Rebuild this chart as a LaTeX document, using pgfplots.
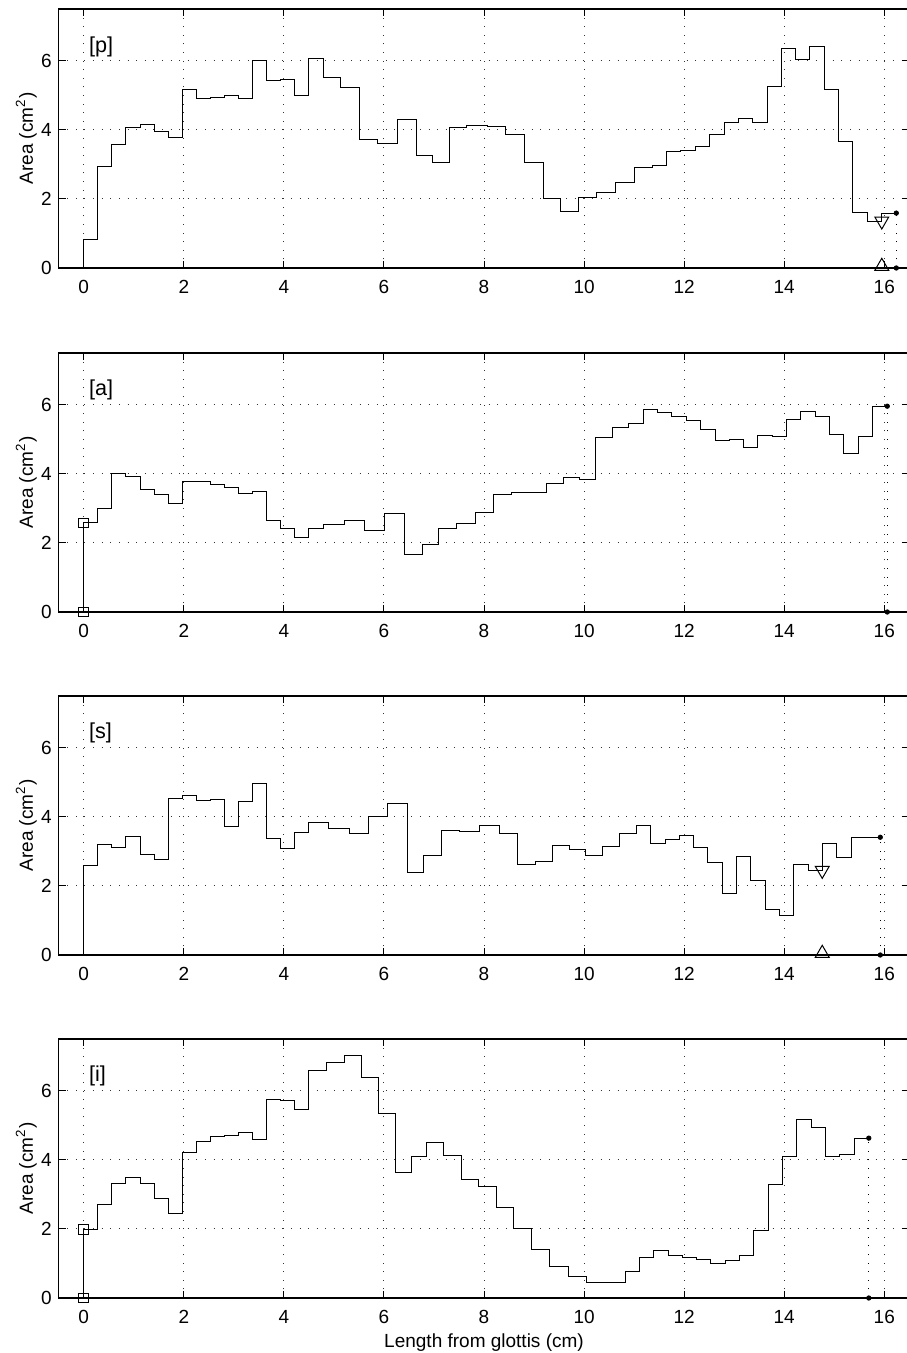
\documentclass[border=0pt]{standalone}
\usepackage{fontspec}
\setmainfont{Liberation Sans}
\usepackage{pgfplots}
\pgfplotsset{compat=1.18}
\usepackage{pgfplotstable}

\pgfplotstableread{
x y
0 0
0 0.83
0.28 2.93
0.565 3.59
0.845 4.06
1.13 4.15
1.416 3.96
1.695 3.77
1.98 5.17
2.26 4.90
2.54 4.95
2.82 5.00
3.10 4.92
3.38 6.02
3.66 5.44
3.94 5.46
4.22 5.00
4.50 6.07
4.79 5.53
5.14 5.23
5.52 3.73
5.88 3.61
6.28 4.31
6.65 3.26
6.97 3.05
7.31 4.07
7.66 4.13
8.06 4.10
8.43 3.86
8.81 3.05
9.19 2.00
9.52 1.64
9.88 2.05
10.25 2.18
10.62 2.49
11.00 2.91
11.37 2.97
11.64 3.37
11.93 3.40
12.22 3.53
12.51 3.86
12.80 4.20
13.09 4.34
13.37 4.20
13.66 5.26
13.95 6.35
14.23 6.05
14.51 6.42
14.80 5.17
15.08 3.67
15.37 1.61
15.66 1.36
15.95 1.59
16.24 1.59
}\datap

\pgfplotstableread{
x y
0 0
0 2.58
0.28 3.01
0.565 4.00
0.845 3.92
1.13 3.54
1.416 3.39
1.695 3.15
1.98 3.77
2.54 3.69
2.82 3.61
3.10 3.44
3.38 3.50
3.66 2.65
3.94 2.43
4.22 2.15
4.50 2.43
4.79 2.52
5.21 2.64
5.62 2.35
6.02 2.85
6.42 1.66
6.77 1.95
7.10 2.42
7.46 2.55
7.83 2.88
8.19 3.39
8.55 3.47
9.24 3.71
9.58 3.90
9.91 3.85
10.23 5.06
10.56 5.33
10.88 5.45
11.18 5.86
11.47 5.79
11.75 5.65
12.04 5.55
12.33 5.28
12.62 4.98
12.91 5.00
13.19 4.77
13.47 5.11
13.76 5.08
14.05 5.57
14.33 5.82
14.62 5.65
14.90 5.13
15.19 4.59
15.48 5.07
15.77 5.96
16.06 5.96
}\dataa

\pgfplotstableread{
x y
0 0
0 2.58
0.28 3.21
0.565 3.10
0.845 3.43
1.13 2.91
1.416 2.76
1.695 4.53
1.98 4.61
2.26 4.47
2.54 4.50
2.82 3.72
3.10 4.44
3.38 4.97
3.66 3.37
3.94 3.09
4.22 3.55
4.50 3.85
4.90 3.67
5.31 3.51
5.70 4.02
6.08 4.38
6.47 2.39
6.80 2.89
7.15 3.62
7.51 3.59
7.90 3.74
8.31 3.53
8.67 2.63
9.03 2.70
9.36 3.16
9.70 3.05
10.03 2.87
10.36 3.14
10.70 3.51
11.04 3.74
11.33 3.24
11.62 3.34
11.90 3.47
12.19 3.11
12.47 2.67
12.76 1.79
13.05 2.84
13.33 2.16
13.62 1.33
13.91 1.13
14.19 2.62
14.48 2.45
14.76 3.23
15.05 2.81
15.34 3.41
15.92 3.41
}\datas

\pgfplotstableread{
x y
0 0
0 1.99
0.28 2.71
0.565 3.32
0.845 3.49
1.13 3.32
1.416 2.87
1.695 2.46
1.98 4.22
2.26 4.53
2.54 4.67
2.82 4.72
3.10 4.78
3.38 4.60
3.66 5.74
3.94 5.72
4.22 5.46
4.50 6.58
4.85 6.81
5.21 7.02
5.55 6.38
5.90 5.33
6.24 3.64
6.55 4.11
6.86 4.50
7.20 4.14
7.55 3.42
7.89 3.22
8.25 2.62
8.59 2.02
8.95 1.41
9.31 0.90
9.68 0.63
10.05 0.45
10.82 0.76
11.10 1.17
11.39 1.38
11.68 1.24
11.96 1.16
12.25 1.12
12.53 1.01
12.82 1.10
13.11 1.24
13.39 1.96
13.68 3.28
13.97 4.10
14.25 5.17
14.54 4.95
14.82 4.09
15.11 4.17
15.40 4.63
15.69 4.63
}\datai

\pgfplotsset{
 myaxis/.style={
  scale only axis, width=425.3pt, height=129.5pt,
  xmin=-0.5, xmax=16.5, ymin=0, ymax=7.5,
  xtick={0,2,...,16}, ytick={0,2,4,6},
  grid=major,
  major grid style={black!80, line width=0.5pt, dash pattern=on 0.5pt off 3.8pt},
  tick align=inside, xtick pos=both, ytick pos=both, major tick length=3.5pt,
  axis line style={line width=0.6pt},
  every tick/.style={black, line width=0.5pt},
  /pgf/number format/assume math mode=true,
  tick label style={font=\fontsize{9.5}{11}\selectfont},
  label style={font=\fontsize{9.5}{11}\selectfont},
  ylabel={Area (cm\textsuperscript{2})},
  y label style={at={(axis description cs:-0.038,0.5)}, anchor=center},
  x tick label style={yshift=-2.5pt},
  clip=false,
  anchor=south west,
 },
 stp/.style={black, line width=0.5pt, const plot mark left, no marks},
 endl/.style={black, line width=0.5pt, dash pattern=on 0.5pt off 3.8pt},
 dots/.style={only marks, mark=*, mark size=1.1pt, black},
 sq/.style={only marks, mark=square, mark size=2.4pt, black, mark options={line width=0.5pt}},
 tri/.style={only marks, mark=triangle, mark size=4pt, black, mark options={line width=0.5pt}},
 trid/.style={only marks, mark=triangle, mark size=4pt, black, mark options={line width=0.5pt, rotate=180}},
}
\tikzset{plab/.style={anchor=base west, inner sep=0pt, font=\fontsize{10.8}{12}\selectfont}}

\begin{document}
\begin{tikzpicture}
% [p]
\begin{axis}[myaxis, at={(29.35pt,-134pt)}]
\addplot[stp] table {\datap};
\addplot[endl] coordinates {(16.24,0) (16.24,1.59)};
\addplot[dots] coordinates {(16.24,0) (16.24,1.59)};
\addplot[trid] coordinates {(15.95,1.36)};
\addplot[tri] coordinates {(15.95,0.05)};
\node[plab] at (axis cs:0.1,6.25) {[p]};
\end{axis}
% [a]
\begin{axis}[myaxis, at={(29.35pt,-306pt)}]
\addplot[stp] table {\dataa};
\addplot[endl] coordinates {(16.06,0) (16.06,5.96)};
\addplot[dots] coordinates {(16.06,0) (16.06,5.96)};
\addplot[sq] coordinates {(0,0) (0,2.58)};
\node[plab] at (axis cs:0.1,6.27) {[a]};
\end{axis}
% [s]
\begin{axis}[myaxis, at={(29.35pt,-477.5pt)}]
\addplot[stp] table {\datas};
\addplot[endl] coordinates {(15.92,0) (15.92,3.41)};
\addplot[dots] coordinates {(15.92,0) (15.92,3.41)};
\addplot[trid] coordinates {(14.76,2.45)};
\addplot[tri] coordinates {(14.76,0.05)};
\node[plab] at (axis cs:0.1,6.27) {[s]};
\end{axis}
% [i]
\begin{axis}[myaxis, at={(29.35pt,-649pt)}, xlabel={Length from glottis (cm)},
  x label style={at={(axis description cs:0.5,-0.174)}, anchor=center}]
\addplot[stp] table {\datai};
\addplot[endl] coordinates {(15.69,0) (15.69,4.63)};
\addplot[dots] coordinates {(15.69,0) (15.69,4.63)};
\addplot[sq] coordinates {(0,0) (0,1.99)};
\node[plab] at (axis cs:0.1,6.27) {[i]};
\end{axis}
\pgfresetboundingbox
\path[use as bounding box] (0,0) rectangle (453pt,-676.5pt);
\end{tikzpicture}
\end{document}
